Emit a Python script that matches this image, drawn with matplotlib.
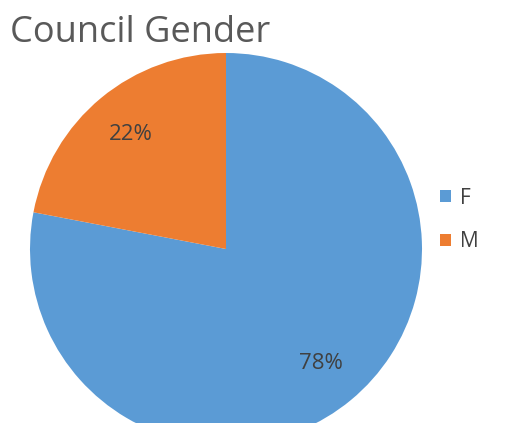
import matplotlib
matplotlib.use("Agg")
import matplotlib.pyplot as plt

categories = ["F", "M"]
values = [78, 22]
colors = ["#5B9BD5", "#ED7D31"]
title = "Council Gender"

plt.rcParams['font.family'] = ['Open Sans', 'DejaVu Sans']

W, H = 531, 423
fig = plt.figure(figsize=(W / 100, H / 100), dpi=100)
cx, cy, r = 226, 249, 196
ax = fig.add_axes([(cx - r) / W, (H - cy - r) / H, 2 * r / W, 2 * r / H])

wedges, texts, autotexts = ax.pie(
    values, colors=colors, startangle=90, counterclock=False,
    autopct=lambda p: f"{p:.0f}%", pctdistance=0.76, radius=1,
    wedgeprops=dict(linewidth=0),
    textprops=dict(color="#404040", fontsize=16),
)
ax.set_xlim(-1, 1)
ax.set_ylim(-1, 1)
ax.set_aspect('auto')

fig.text(10 / W, 1 - 42 / H, title, fontsize=26, color="#595959", va="baseline", ha="left")

fig.legend(wedges, categories, loc="center left",
           bbox_to_anchor=(421 / W, 1 - 220 / H), frameon=False,
           handlelength=0.55, handleheight=0.55, handletextpad=0.4,
           labelspacing=1.1, fontsize=15, labelcolor="#404040")

fig.savefig("out.png", dpi=100)
